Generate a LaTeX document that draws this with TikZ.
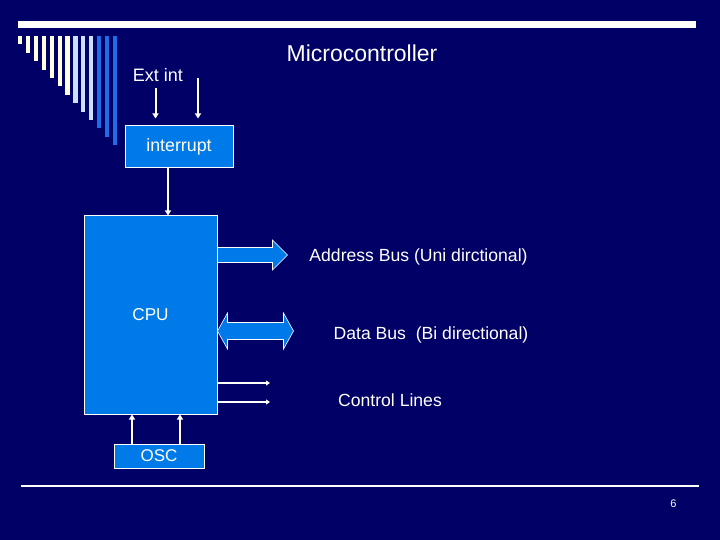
\documentclass[tikz,border=0pt]{standalone}
\usepackage{fontspec}
\setmainfont{Liberation Sans}
\usetikzlibrary{arrows.meta,positioning,calc}
\definecolor{slidebg}{RGB}{0,0,102}
\definecolor{boxblue}{RGB}{0,122,232}
\definecolor{barcream}{RGB}{255,255,222}
\definecolor{barlight}{RGB}{204,224,255}
\definecolor{barblue}{RGB}{30,110,230}

\begin{document}
\begin{tikzpicture}[
  x=1pt, y=-1pt,
  unitbox/.style={draw=white, line width=1pt, fill=boxblue, text=white, inner sep=0pt},
  buslabel/.style={text=white, anchor=base, font=\fontsize{17.6}{17.6}\selectfont},
  wire/.style={draw=white, line width=2pt, -{Triangle[width=6pt,length=5pt]}},
  busarrow/.style={fill=boxblue, draw=white, line width=0.6pt}
]

% Background
\fill[slidebg] (0,0) rectangle (720,540);
\useasboundingbox (0,0) rectangle (720,540);

% Title rule
\fill[white] (18,21) rectangle (696,28);

% Bar comb
\foreach \i in {0,...,12} {
  \ifnum\i<7 \def\barcol{barcream}\else
    \ifnum\i<10 \def\barcol{barlight}\else \def\barcol{barblue}\fi
  \fi
  \fill[\barcol] (18+7.9*\i,36) rectangle ++(4.2,8.4+8.4*\i);
}

% Blocks
\node[unitbox, minimum width=108pt, minimum height=42pt,
  font=\fontsize{17.8}{17.8}\selectfont] (intr) at (179,147) {interrupt};
\node[unitbox, minimum width=133pt, minimum height=198pt,
  font=\fontsize{17.2}{17.2}\selectfont] (cpu) at (150.5,315) {CPU};
\node[unitbox, minimum width=90pt, minimum height=24pt,
  font=\fontsize{17}{17}\selectfont] (osc) at (159,456) {OSC};

% Texts
\node[buslabel, font=\fontsize{23}{23}\selectfont] (title) at (362,62) {Microcontroller};
\node[buslabel, font=\fontsize{18}{18}\selectfont] (extint) at (158,82) {Ext int};
\node[buslabel] (addr) at (418.5,261) {Address Bus (Uni dirctional)};
\node[buslabel] (data) at (431,339) {Data Bus\ \ (Bi directional)};
\node[buslabel] (ctrl) at (390,406) {Control Lines};
\node[buslabel, font=\fontsize{11}{11}\selectfont] (pagenum) at (673.5,507) {6};

% Interrupt inputs
\coordinate (ext1) at (155.5,88);
\coordinate (ext2) at (198,78);
\draw[wire, shorten >=7pt] (ext1) -- (ext1 |- intr.north);
\draw[wire, shorten >=7pt] (ext2) -- (ext2 |- intr.north);

% Interrupt to CPU
\coordinate (irq) at (168,168);
\draw[wire] (irq) -- (irq |- cpu.north);

% Oscillator to CPU
\coordinate (osc1) at (132,444);
\coordinate (osc2) at (180,444);
\draw[wire] (osc1) -- (osc1 |- cpu.south);
\draw[wire] (osc2) -- (osc2 |- cpu.south);

% Address bus
\coordinate (abus) at ($(cpu.east)+(0,-60)$);
\filldraw[busarrow] (abus) ++(0,-7.5) -- ++(55,0) -- ++(0,-7.5) -- ++(15,15)
  -- ++(-15,15) -- ++(0,-7.5) -- ++(-55,0) -- cycle;

% Data bus
\coordinate (dbus) at ($(cpu.east)+(0,16)$);
\filldraw[busarrow] (dbus) -- ++(10,-18) -- ++(0,9.5) -- ++(56,0) -- ++(0,-9.5)
  -- ++(10,18) -- ++(-10,18) -- ++(0,-9.5) -- ++(-56,0) -- ++(0,9.5) -- cycle;

% Control lines
\coordinate (ctl1) at (270,383);
\coordinate (ctl2) at (270,402);
\draw[wire, -{Triangle[width=5pt,length=4pt]}] (ctl1 -| cpu.east) -- (ctl1);
\draw[wire, -{Triangle[width=5pt,length=4pt]}] (ctl2 -| cpu.east) -- (ctl2);

% Footer rule
\draw[white, line width=2pt] (21,485.5) -- (699,485.5);

\end{tikzpicture}
\end{document}
